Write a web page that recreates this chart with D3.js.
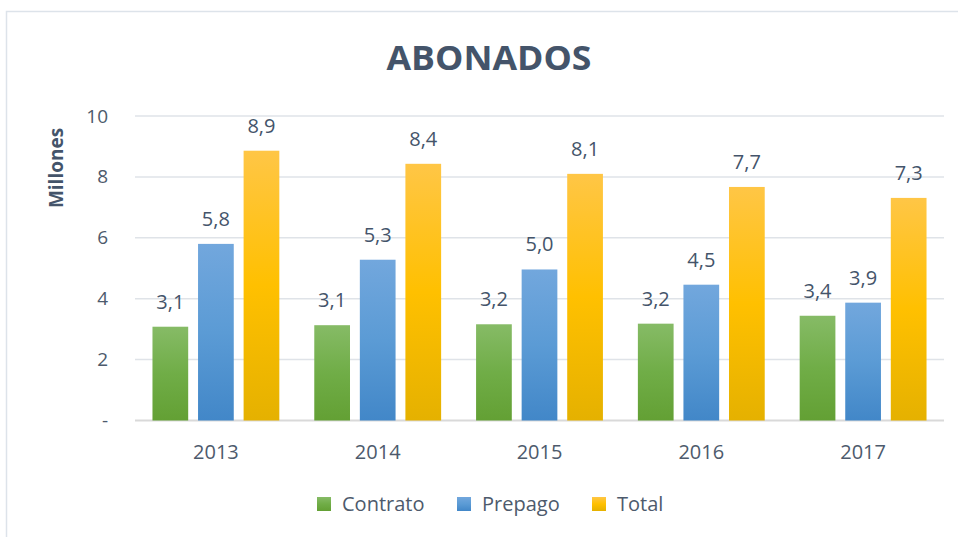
<!DOCTYPE html>
<html>
<head>
<meta charset="utf-8">
<script src="https://cdn.jsdelivr.net/npm/d3@7"></script>
<style>
  body { margin: 0; background: #fff; }
  svg text { font-family: "Open Sans", sans-serif; }
</style>
</head>
<body>
<script>
// data
const years = ['2013', '2014', '2015', '2016', '2017'];
const seriesNames = ['Contrato', 'Prepago', 'Total'];
const contrato = [3.08, 3.13, 3.16, 3.18, 3.44];
const prepago = [5.80, 5.28, 4.96, 4.46, 3.87];
const total = [8.86, 8.43, 8.10, 7.67, 7.31];
const yTicks = [0, 2, 4, 6, 8, 10];

const W = 958, H = 537;
const margin = { left: 135, right: 14, top: 116, bottom: 116 };
const colors = {
  Contrato: ['#86bb66', '#70ad47', '#63a034'],
  Prepago: ['#72a7dd', '#5b9bd5', '#4287c8'],
  Total: ['#ffc646', '#ffc000', '#e5b100']
};
const valuesBySeries = { Contrato: contrato, Prepago: prepago, Total: total };

const svg = d3.select('body').append('svg')
  .attr('width', W)
  .attr('height', H);

// gradients
const defs = svg.append('defs');
seriesNames.forEach(s => {
  const g = defs.append('linearGradient')
    .attr('id', `grad-${s}`)
    .attr('x1', 0).attr('y1', 0).attr('x2', 0).attr('y2', 1);
  g.append('stop').attr('offset', '0%').attr('stop-color', colors[s][0]);
  g.append('stop').attr('offset', '50%').attr('stop-color', colors[s][1]);
  g.append('stop').attr('offset', '100%').attr('stop-color', colors[s][2]);
});

// chart border
svg.append('rect')
  .attr('x', 6.5).attr('y', 11.5)
  .attr('width', W).attr('height', H)
  .attr('fill', 'none')
  .attr('stroke', '#dde3ea')
  .attr('stroke-width', 1.5);

const x = d3.scaleBand()
  .domain(years)
  .range([margin.left, W - margin.right])
  .paddingInner(0.216)
  .paddingOuter(0.108);

const x1 = d3.scaleBand()
  .domain(seriesNames)
  .range([0, x.bandwidth()])
  .paddingInner(0.216);

// centre each group inside its full step
const step = x.step();
const groupW = x.bandwidth();
const groupX = d => margin.left + years.indexOf(d) * step + (step - groupW) / 2;

const y = d3.scaleLinear()
  .domain([0, 10])
  .range([H - margin.bottom - 0.5, margin.top]);

// gridlines
svg.append('g')
  .selectAll('line')
  .data(yTicks)
  .enter()
  .append('line')
  .attr('x1', margin.left)
  .attr('x2', W - margin.right)
  .attr('y1', d => y(d))
  .attr('y2', d => y(d))
  .attr('stroke', d => d === 0 ? '#d9d9d9' : '#dfe3e8')
  .attr('stroke-width', d => d === 0 ? 2 : 1.5);

// y axis labels
const yAxis = d3.axisLeft(y)
  .tickValues(yTicks)
  .tickSize(0)
  .tickPadding(0)
  .tickFormat(d => d === 0 ? '-' : d);

svg.append('g')
  .attr('transform', `translate(${margin.left - 27},0)`)
  .call(yAxis)
  .call(g => g.select('.domain').remove())
  .call(g => g.selectAll('text')
    .attr('fill', '#4d5a6c')
    .style('font-size', '19px')
    .style('font-family', '"Open Sans", sans-serif'));

// y title
svg.append('text')
  .attr('transform', `translate(63,168) rotate(-90)`)
  .attr('text-anchor', 'middle')
  .attr('fill', '#44546a')
  .style('font-size', '19px')
  .style('font-weight', 'bold')
  .text('Millones');

// x axis labels
const xAxis = d3.axisBottom(x).tickSize(0).tickPadding(0);
svg.append('g')
  .attr('transform', `translate(0,${H - margin.bottom + 38})`)
  .call(xAxis)
  .call(g => g.select('.domain').remove())
  .call(g => g.selectAll('text')
    .attr('fill', '#4d5a6c')
    .attr('dy', 0)
    .style('font-size', '20px')
    .style('font-family', '"Open Sans", sans-serif'));

// bars
const groups = svg.append('g')
  .selectAll('g')
  .data(years)
  .enter()
  .append('g')
  .attr('transform', d => `translate(${groupX(d)},0)`);

groups.selectAll('rect')
  .data((d, i) => seriesNames.map(s => ({ s, v: valuesBySeries[s][i] })))
  .enter()
  .append('rect')
  .attr('x', d => x1(d.s))
  .attr('width', x1.bandwidth())
  .attr('y', d => y(d.v))
  .attr('height', d => y(0) - y(d.v))
  .attr('fill', d => `url(#grad-${d.s})`);

// data labels
groups.selectAll('text')
  .data((d, i) => seriesNames.map(s => ({ s, v: valuesBySeries[s][i] })))
  .enter()
  .append('text')
  .attr('x', d => x1(d.s) + x1.bandwidth() / 2)
  .attr('y', d => y(d.v) - 18)
  .attr('text-anchor', 'middle')
  .attr('fill', '#44546a')
  .style('font-size', '20px')
  .text(d => d3.format('.1f')(d.v).replace('.', ','));

// title
svg.append('text')
  .attr('x', 489)
  .attr('y', 70)
  .attr('text-anchor', 'middle')
  .attr('fill', '#44546a')
  .attr('textLength', 205)
  .attr('lengthAdjust', 'spacingAndGlyphs')
  .style('font-size', '34px')
  .style('font-weight', 'bold')
  .text('ABONADOS');

// legend
const legendX = [317, 457, 592];
const legend = svg.append('g')
  .selectAll('g')
  .data(seriesNames)
  .enter()
  .append('g')
  .attr('transform', (d, i) => `translate(${legendX[i]},497)`);

legend.append('rect')
  .attr('width', 14)
  .attr('height', 14)
  .attr('fill', d => `url(#grad-${d})`);

legend.append('text')
  .attr('x', 25)
  .attr('y', 14)
  .attr('fill', '#4d5a6c')
  .style('font-size', '20px')
  .text(d => d);
</script>
</body>
</html>
